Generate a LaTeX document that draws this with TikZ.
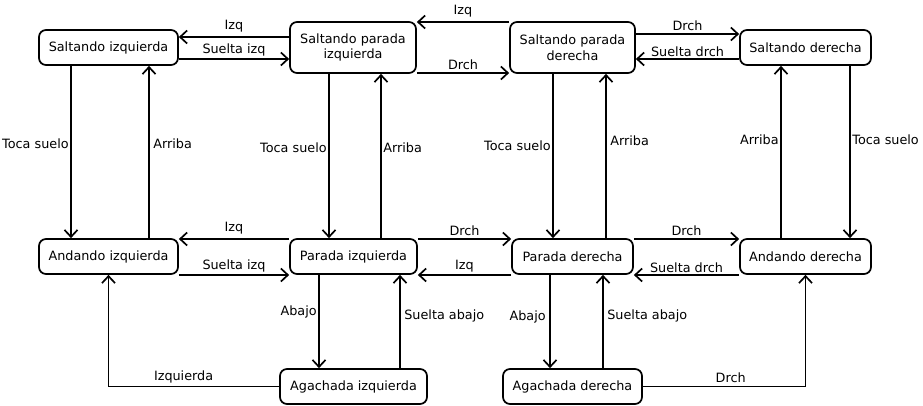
\documentclass[tikz,border=0pt]{standalone}
\usepackage{fontspec}
\setmainfont{DejaVu Sans}
\usetikzlibrary{arrows.meta}

\tikzset{
  estado/.style={draw,line width=1.7pt,rounded corners=7pt,align=center,inner sep=0pt,
    minimum height=35pt,font=\fontsize{12.8}{15.5}\selectfont},
  flecha/.style={line width=1.7pt,-{Straight Barb[length=7pt,width=13pt,line width=1.7pt]}},
  etq/.style={font=\fontsize{12.8}{15.5}\selectfont,inner sep=1.5pt}
}

\begin{document}
\begin{tikzpicture}[x=1pt,y=-1pt]
\useasboundingbox (0,0) rectangle (923,406);

% estados
\node[estado,minimum width=139pt] (si) at (108.5,47.5) {Saltando izquierda};
\node[estado,minimum width=126pt,minimum height=51pt] (spi) at (353,47.5) {Saltando parada\\izquierda};
\node[estado,minimum width=125pt,minimum height=51pt] (spd) at (572.5,47.5) {Saltando parada\\derecha};
\node[estado,minimum width=131pt] (sd) at (805.5,47.5) {Saltando derecha};

\node[estado,minimum width=139pt] (ai) at (108.5,256.5) {Andando izquierda};
\node[estado,minimum width=127pt] (pi) at (353.5,256.5) {Parada izquierda};
\node[estado,minimum width=121pt] (pd) at (572.5,256.5) {Parada derecha};
\node[estado,minimum width=131pt] (ad) at (805.5,256.5) {Andando derecha};

\node[estado,minimum width=147pt] (agi) at (353.5,386.5) {Agachada izquierda};
\node[estado,minimum width=139pt] (agd) at (572.5,386.5) {Agachada derecha};

% fila de arriba
\draw[flecha] (spi.west |- 0,37) -- node[etq,above=2pt] {Izq} (si.east |- 0,37);
\draw[flecha] (si.east |- 0,59) -- node[etq,above] {Suelta izq} (spi.west |- 0,59);
\draw[flecha] (spd.west |- 0,22) -- node[etq,above=2pt] {Izq} (spi.east |- 0,22);
\draw[flecha] (spi.east |- 0,73) -- node[etq,above=1pt] {Drch} (spd.west |- 0,73);
\draw[flecha] (spd.east |- 0,34) -- node[etq,above=1pt] {Drch} (sd.west |- 0,34);
\draw[flecha] (sd.west |- 0,59) -- node[etq,above] {Suelta drch} (spd.east |- 0,59);

% verticales
\draw[flecha] (si.south -| 71,0) -- node[etq,left,pos=.45] {Toca suelo} (ai.north -| 71,0);
\draw[flecha] (ai.north -| 149,0) -- node[etq,right=2pt,pos=.55] {Arriba} (si.south -| 149,0);
\draw[flecha] (spi.south -| 329,0) -- node[etq,left,pos=.45] {Toca suelo} (pi.north -| 329,0);
\draw[flecha] (pi.north -| 381,0) -- node[etq,right,pos=.55] {Arriba} (spi.south -| 381,0);
\draw[flecha] (spd.south -| 553,0) -- node[etq,left,pos=.44] {Toca suelo} (pd.north -| 553,0);
\draw[flecha] (pd.north -| 606,0) -- node[etq,right=2pt,pos=.59] {Arriba} (spd.south -| 606,0);
\draw[flecha] (ad.north -| 781,0) -- node[etq,left,pos=.57] {Arriba} (sd.south -| 781,0);
\draw[flecha] (sd.south -| 850,0) -- node[etq,right,pos=.43] {Toca suelo} (ad.north -| 850,0);

% fila del medio
\draw[flecha] (pi.west |- 0,239) -- node[etq,above=2pt] {Izq} (ai.east |- 0,239);
\draw[flecha] (ai.east |- 0,275) -- node[etq,above] {Suelta izq} (pi.west |- 0,275);
\draw[flecha] (pi.east |- 0,239) -- node[etq,above=1pt] {Drch} (pd.west |- 0,239);
\draw[flecha] (pd.west |- 0,275) -- node[etq,above] {Izq} (pi.east |- 0,275);
\draw[flecha] (pd.east |- 0,239) -- node[etq,above=1pt] {Drch} (ad.west |- 0,239);
\draw[flecha] (ad.west |- 0,275) -- node[etq,above] {Suelta drch} (pd.east |- 0,275);

% agachada
\draw[flecha] (pi.south -| 319,0) -- node[etq,left,pos=.4] {Abajo} (agi.north -| 319,0);
\draw[flecha] (agi.north -| 400,0) -- node[etq,right=2pt,pos=.56] {Suelta abajo} (pi.south -| 400,0);
\draw[flecha] (pd.south -| 550,0) -- node[etq,left=2pt,pos=.45] {Abajo} (agd.north -| 550,0);
\draw[flecha] (agd.north -| 603,0) -- node[etq,right=2pt,pos=.56] {Suelta abajo} (pd.south -| 603,0);
\draw[flecha] (agi.west) -| node[etq,above=1pt,pos=.28] {Izquierda} (ai.south);
\draw[flecha] (agd.east) -| node[etq,above=1pt,pos=.27] {Drch} (ad.south);

\end{tikzpicture}
\end{document}
